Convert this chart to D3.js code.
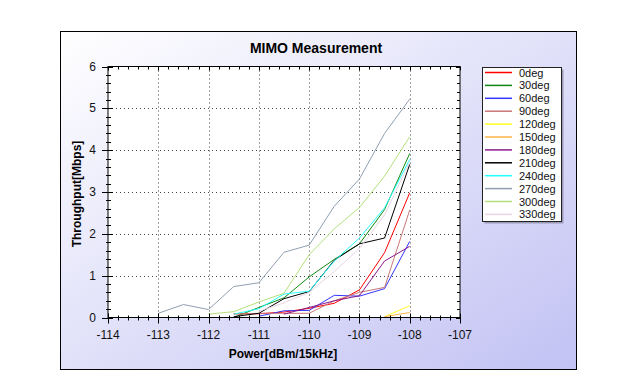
<!DOCTYPE html>
<html>
<head>
<meta charset="utf-8">
<script src="https://cdn.jsdelivr.net/npm/d3@7"></script>
<style>
  html, body { margin: 0; padding: 0; background: #fff; }
  svg { display: block; font-family: "Liberation Sans", Arial, sans-serif; }
</style>
</head>
<body>
<div id="chart"></div>
<script>
// MIMO throughput vs received power, one line per antenna angle

const xValues = [-113, -112.5, -112, -111.5, -111, -110.5, -110, -109.5, -109, -108.5, -108];

const seriesNames = ["0deg", "30deg", "60deg", "90deg", "120deg", "150deg",
  "180deg", "210deg", "240deg", "270deg", "300deg", "330deg"];

const seriesColors = ["#ff0000", "#118811", "#3535ff", "#c87878", "#ffff22", "#ffb44a",
  "#8a1a8a", "#000000", "#22ffff", "#90a0b0", "#b4e07a", "#e8d4e4"];

const deg0   = [null, null, null, 0.09, 0.09, 0.13, 0.22, 0.34, 0.66, 1.55, 2.98];
const deg30  = [null, null, null, 0.0, 0.24, 0.47, 0.97, 1.39, 1.76, 2.58, 3.92];
const deg60  = [null, null, null, null, 0.03, 0.16, 0.17, 0.53, 0.51, 0.69, 1.82];
const deg90  = [null, null, null, 0.08, 0.1, 0.1, 0.1, 0.4, 0.6, 0.72, 2.57];
const deg120 = [null, null, null, null, null, null, null, null, null, 0.02, 0.28];
const deg150 = [null, null, null, null, null, null, null, null, null, 0.02, 0.12];
const deg180 = [null, null, null, null, null, 0.08, 0.24, 0.4, 0.52, 1.35, 1.7];
const deg210 = [null, null, null, 0.02, 0.1, 0.45, 0.62, 1.37, 1.76, 1.9, 3.66];
const deg240 = [null, null, null, 0.08, 0.21, 0.56, 0.63, 1.35, 1.9, 2.62, 3.78];
const deg270 = [0.1, 0.31, 0.19, 0.74, 0.83, 1.56, 1.73, 2.66, 3.31, 4.4, 5.22];
const deg300 = [null, null, 0.08, 0.14, 0.37, 0.58, 1.5, 2.12, 2.63, 3.38, 4.32];
const deg330 = [null, null, null, null, 0.15, 0.35, 0.6, 1.1, 1.65, 2.45, 3.72];

const seriesValues = [deg0, deg30, deg60, deg90, deg120, deg150,
  deg180, deg210, deg240, deg270, deg300, deg330];

const xTicks = [-114, -113, -112, -111, -110, -109, -108, -107];
const yTicks = [0, 1, 2, 3, 4, 5, 6];

const W = 619, H = 375;
const plot = { left: 108, right: 460, top: 66.5, bottom: 317.5 };

const svg = d3.select("#chart").append("svg").attr("width", W).attr("height", H);

// frame background gradient
const grad = svg.append("defs").append("linearGradient")
  .attr("id", "bg").attr("x1", 0).attr("y1", 0).attr("x2", 1).attr("y2", 1);
grad.append("stop").attr("offset", "0%").attr("stop-color", "#ffffff");
grad.append("stop").attr("offset", "100%").attr("stop-color", "#c2c2f4");

svg.append("rect")
  .attr("x", 60.5).attr("y", 31.5).attr("width", 516).attr("height", 338)
  .attr("fill", "url(#bg)").attr("stroke", "#000").attr("stroke-width", 1);

const x = d3.scaleLinear().domain([-114, -107]).range([plot.left, plot.right]);
const y = d3.scaleLinear().domain([0, 6]).range([plot.bottom, plot.top]);

// plot background
svg.append("rect")
  .attr("x", plot.left).attr("y", plot.top)
  .attr("width", plot.right - plot.left).attr("height", plot.bottom - plot.top)
  .attr("fill", "#fff");

// dotted grid
const grid = svg.append("g").attr("stroke", "#444").attr("stroke-width", 1)
  .attr("stroke-dasharray", "1,3");
grid.selectAll(".gx").data(xTicks.slice(1, -1)).enter().append("line")
  .attr("x1", d => Math.round(x(d)) + 0.5).attr("x2", d => Math.round(x(d)) + 0.5)
  .attr("y1", plot.top).attr("y2", plot.bottom);
grid.selectAll(".gy").data(yTicks.slice(1, -1)).enter().append("line")
  .attr("y1", d => Math.round(y(d)) + 0.5).attr("y2", d => Math.round(y(d)) + 0.5)
  .attr("x1", plot.left).attr("x2", plot.right);

// lines
const line = d3.line()
  .defined(d => d.v != null)
  .x(d => x(d.x))
  .y(d => y(d.v));

seriesNames.forEach((name, i) => {
  const pts = xValues.map((xv, j) => ({ x: xv, v: seriesValues[i][j] }));
  svg.append("path")
    .datum(pts)
    .attr("fill", "none")
    .attr("stroke", seriesColors[i])
    .attr("stroke-width", 1)
    .attr("d", line);
});

// plot border
svg.append("rect")
  .attr("x", plot.left).attr("y", plot.top)
  .attr("width", plot.right - plot.left).attr("height", plot.bottom - plot.top)
  .attr("fill", "none").attr("stroke", "#000").attr("stroke-width", 1);

// ticks: major every 1, minor every 0.2 on x / 0.2 on y
const xMinor = d3.range(-114, -106.99, 0.2).map(d => +d.toFixed(1));
const yMinor = d3.range(0, 6.01, 0.2).map(d => +d.toFixed(1));
const isMajor = d => Math.abs(d - Math.round(d)) < 1e-6;

const ticks = svg.append("g").attr("stroke", "#000").attr("stroke-width", 1);
ticks.selectAll(".tx").data(xMinor).enter().append("line")
  .attr("x1", d => Math.round(x(d)) + 0.5).attr("x2", d => Math.round(x(d)) + 0.5)
  .attr("y1", d => plot.bottom - (isMajor(d) ? 4 : 2))
  .attr("y2", d => plot.bottom + (isMajor(d) ? 6 : 3));
ticks.selectAll(".txt").data(xMinor).enter().append("line")
  .attr("x1", d => Math.round(x(d)) + 0.5).attr("x2", d => Math.round(x(d)) + 0.5)
  .attr("y1", plot.top).attr("y2", d => plot.top + (isMajor(d) ? 4 : 3));
ticks.selectAll(".ty").data(yMinor).enter().append("line")
  .attr("y1", d => Math.round(y(d)) + 0.5).attr("y2", d => Math.round(y(d)) + 0.5)
  .attr("x1", d => plot.left - (isMajor(d) ? 6 : 2))
  .attr("x2", d => plot.left + (isMajor(d) ? 5 : 3));
ticks.selectAll(".tyr").data(yMinor).enter().append("line")
  .attr("y1", d => Math.round(y(d)) + 0.5).attr("y2", d => Math.round(y(d)) + 0.5)
  .attr("x1", d => plot.right - (isMajor(d) ? 4 : 3)).attr("x2", plot.right);

// tick labels
svg.selectAll(".xl").data(xTicks).enter().append("text")
  .attr("x", d => x(d)).attr("y", 339)
  .attr("text-anchor", "middle").attr("font-size", 12).attr("fill", "#111")
  .text(d => d);
svg.selectAll(".yl").data(yTicks).enter().append("text")
  .attr("x", 96).attr("y", d => y(d) + 4)
  .attr("text-anchor", "end").attr("font-size", 12).attr("fill", "#111")
  .text(d => d);

// title & axis labels
svg.append("text")
  .attr("x", 316).attr("y", 53)
  .attr("text-anchor", "middle").attr("font-size", 14).attr("font-weight", "bold")
  .text("MIMO Measurement");
svg.append("text")
  .attr("x", 283).attr("y", 358)
  .attr("text-anchor", "middle").attr("font-size", 12).attr("font-weight", "bold")
  .text("Power[dBm/15kHz]");
svg.append("text")
  .attr("transform", `translate(81,${(plot.top + plot.bottom) / 2 + 2}) rotate(-90)`)
  .attr("text-anchor", "middle").attr("font-size", 12).attr("font-weight", "bold")
  .text("Throughput[Mbps]");

// legend
const legend = svg.append("g");
legend.append("rect")
  .attr("x", 484.5).attr("y", 69.5).attr("width", 79).attr("height", 154)
  .attr("fill", "#9a9ab8");
legend.append("rect")
  .attr("x", 482.5).attr("y", 67.5).attr("width", 79).attr("height", 154)
  .attr("fill", "#fff").attr("stroke", "#222").attr("stroke-width", 1);

const rows = legend.selectAll(".lg").data(seriesNames).enter().append("g")
  .attr("transform", (d, i) => `translate(0,${72 + i * 12.9})`);
rows.append("line")
  .attr("x1", 485).attr("x2", 512).attr("y1", 0.5).attr("y2", 0.5)
  .attr("stroke", (d, i) => seriesColors[i]).attr("stroke-width", 1.5);
rows.append("text")
  .attr("x", 519).attr("y", 4.5)
  .attr("font-size", 11).attr("fill", "#111")
  .text(d => d);
</script>
</body>
</html>
